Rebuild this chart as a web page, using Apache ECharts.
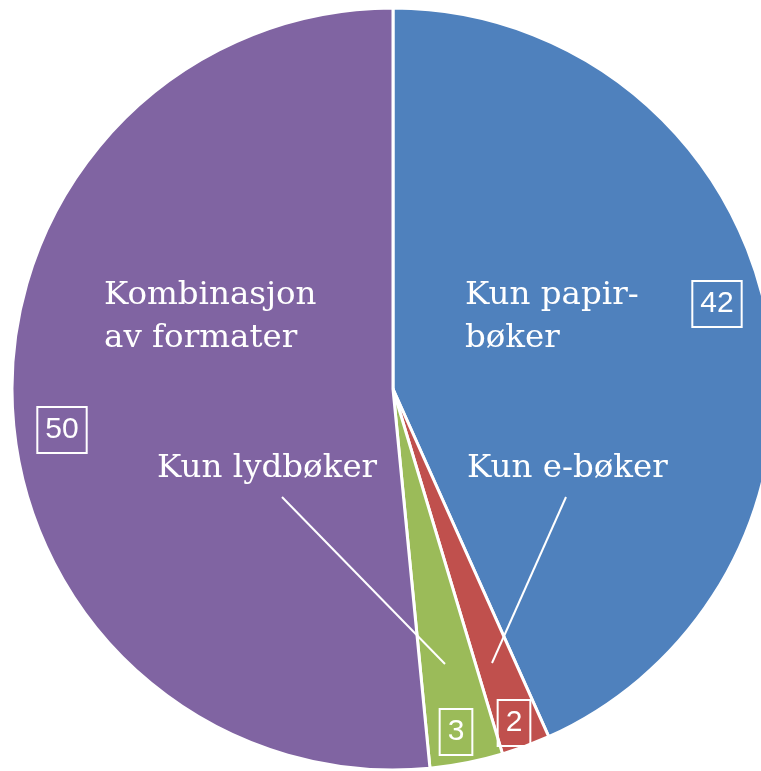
<!DOCTYPE html>
<html>
<head>
<meta charset="utf-8">
<script src="https://cdn.jsdelivr.net/npm/echarts@6/dist/echarts.min.js"></script>
<style>html,body{margin:0;padding:0;background:#fff}#c{width:761px;height:771px}</style>
</head>
<body>
<div id="c"></div>
<script>
const categories = ['Kun papir-\nbøker', 'Kun e-bøker', 'Kun lydbøker', 'Kombinasjon\nav formater'];
const values = [42, 2, 3, 50];
const colors = ['#4F81BD', '#C0504D', '#9BBB59', '#8064A2'];

// label placement (pixel layout, not data)
const nameLayout = [
  {x: 465, y: 274},
  {x: 467, y: 447},
  {x: 157, y: 447},
  {x: 104, y: 274}
];
const leaderLines = [
  [[566, 497], [492, 663]],
  [[282, 497], [445, 664]]
];
const valueLayout = [[717, 304], [514, 723], [456, 732], [62, 430]];

const chart = echarts.init(document.getElementById('c'), null, {renderer: 'canvas'});
const dataNames = categories.map((c, i) => ({
  name: c, value: values[i],
  itemStyle: {color: colors[i]}
}));
const dataVals = categories.map((c, i) => ({name: c, value: values[i]}));

chart.setOption({
  backgroundColor: '#fff',
  animation: false,
  graphic: leaderLines.map(pts => ({
    type: 'line', z: 100, silent: true,
    shape: {x1: pts[0][0], y1: pts[0][1], x2: pts[1][0], y2: pts[1][1]},
    style: {stroke: '#fff', lineWidth: 2}
  })),
  series: [
    {
      type: 'pie',
      center: [393, 389],
      radius: [0, 381],
      startAngle: 90,
      clockwise: true,
      avoidLabelOverlap: false,
      silent: true,
      itemStyle: {borderColor: '#fff', borderWidth: 3},
      label: {
        show: true,
        position: 'inside',
        formatter: '{b}',
        color: '#fff',
        fontFamily: 'DejaVu Serif',
        fontSize: 32.5,
        lineHeight: 43,
        align: 'left'
      },
      labelLine: {show: false},
      labelLayout: function (p) {
        const l = nameLayout[p.dataIndex];
        return {x: l.x, y: l.y, align: 'left', verticalAlign: 'top'};
      },
      data: dataNames
    },
    {
      type: 'pie',
      center: [393, 389],
      radius: [0, 381],
      startAngle: 90,
      clockwise: true,
      avoidLabelOverlap: false,
      silent: true,
      itemStyle: {color: 'rgba(0,0,0,0)', borderWidth: 0},
      label: {
        show: true,
        position: 'inside',
        formatter: '{c}',
        color: '#fff',
        fontFamily: 'Liberation Sans',
        fontSize: 30,
        lineHeight: 32,
        borderColor: '#fff',
        borderWidth: 2,
        padding: [7, 8, 7, 8]
      },
      labelLine: {show: false},
      labelLayout: function (p) {
        const v = valueLayout[p.dataIndex];
        return {x: v[0], y: v[1], align: 'center', verticalAlign: 'middle'};
      },
      data: dataVals
    }
  ]
});
</script>
</body>
</html>
